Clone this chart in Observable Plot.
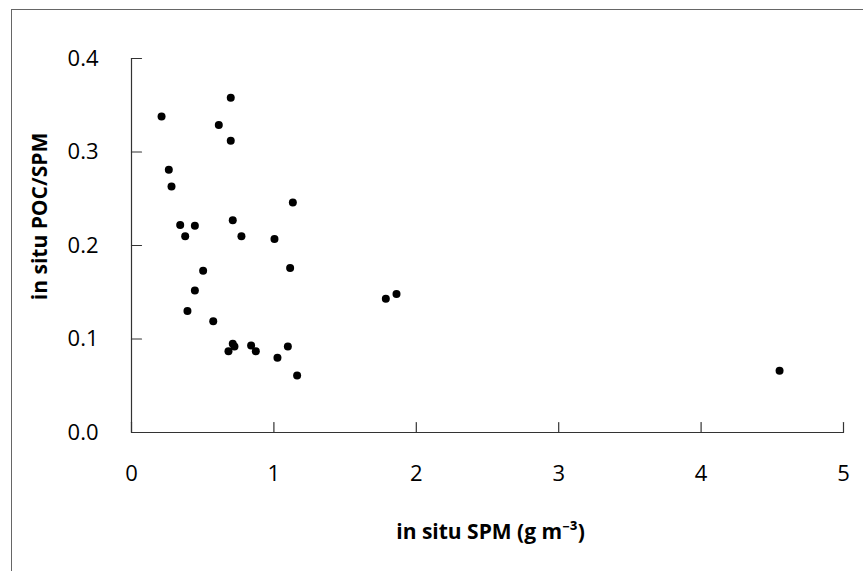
<!DOCTYPE html>
<html>
<head>
<meta charset="utf-8">
<script src="https://cdn.jsdelivr.net/npm/d3@7"></script>
<script src="https://cdn.jsdelivr.net/npm/@observablehq/plot@0.6"></script>
<style>
  html, body { margin: 0; padding: 0; background: #fff; }
  #wrap { position: relative; width: 863px; height: 571px; overflow: hidden; }
  #border { position: absolute; left: 11px; top: 9px; right: -2px; bottom: -2px;
            border-top: 1px solid #666; border-left: 1px solid #666; pointer-events: none; }
  #chart { position: absolute; left: 0; top: 0; }
</style>
</head>
<body>
<div id="wrap"><div id="chart"></div><div id="border"></div></div>
<script>
// In situ SPM (g m^-3)
const spm = [0.211, 0.697, 0.613, 0.697, 0.262, 0.281, 1.133, 0.342, 0.445, 0.711,
             0.377, 0.772, 1.004, 1.114, 0.503, 0.445, 0.393, 0.574, 0.711, 0.681,
             0.723, 0.840, 0.873, 1.098, 1.025, 1.163, 1.786, 1.861, 4.551];
// In situ POC/SPM
const pocSpm = [0.338, 0.358, 0.329, 0.312, 0.281, 0.263, 0.246, 0.222, 0.221, 0.227,
                0.210, 0.210, 0.207, 0.176, 0.173, 0.152, 0.130, 0.119, 0.095, 0.087,
                0.092, 0.093, 0.087, 0.092, 0.080, 0.061, 0.143, 0.148, 0.066];
const xTicks = [0, 1, 2, 3, 4, 5];
const yTicks = [0.0, 0.1, 0.2, 0.3, 0.4];
const xLabel = "in situ SPM (g m\u207B\u00B3)";
const yLabel = "in situ POC/SPM";

const points = spm.map((x, i) => ({x, y: pocSpm[i]}));
const tickShape = {draw(ctx, l) { ctx.moveTo(0, 0); ctx.lineTo(0, -l); }};
const font = "'Open Sans', 'Noto Sans', sans-serif";

const chart = Plot.plot({
  width: 863,
  height: 571,
  marginLeft: 131,
  marginRight: 20,
  marginTop: 58,
  marginBottom: 139,
  style: {fontFamily: font, fontSize: "22px", color: "#000", background: "transparent"},
  x: {domain: [0, 5], ticks: xTicks},
  y: {domain: [0, 0.4], ticks: yTicks},
  marks: [
    Plot.axisX({ticks: xTicks, tickSize: 0, tickPadding: 33, label: null, fontSize: 22,
                tickFormat: d => String(d)}),
    Plot.axisY({ticks: yTicks, tickSize: 0, tickPadding: 33, label: null, fontSize: 22,
                tickFormat: d => d.toFixed(1)}),
    Plot.ruleY([0], {stroke: "#333", strokeWidth: 1.2}),
    Plot.ruleX([0], {stroke: "#333", strokeWidth: 1.2}),
    Plot.vector(xTicks, {x: d => d, y: 0, length: 10, rotate: 0, anchor: "start",
                         shape: tickShape, stroke: "#333", strokeWidth: 1.2}),
    Plot.vector(yTicks, {x: 0, y: d => d, length: 10, rotate: 90, anchor: "start",
                         shape: tickShape, stroke: "#333", strokeWidth: 1.2}),
    Plot.dot(points, {x: "x", y: "y", r: 4, fill: "black", stroke: null}),
    Plot.text([xLabel], {frameAnchor: "bottom", text: d => d, dx: 3, dy: 106,
                         fontWeight: "bold", fontSize: 21, fill: "#000"}),
    Plot.text([yLabel], {frameAnchor: "left", text: d => d, dx: -91, dy: -29, rotate: -90,
                         textAnchor: "middle", fontWeight: "bold", fontSize: 21, fill: "#000"})
  ]
});
document.getElementById("chart").appendChild(chart);
</script>
</body>
</html>
